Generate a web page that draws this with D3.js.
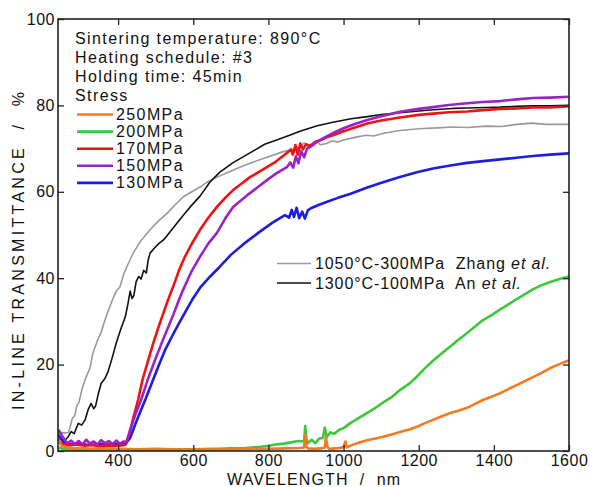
<!DOCTYPE html>
<html>
<head>
<meta charset="utf-8">
<script src="https://cdn.jsdelivr.net/npm/d3@7"></script>
<style>
  html, body { margin: 0; padding: 0; background: #fff; }
  svg text { font-family: "Liberation Sans", Arial, sans-serif; fill: #111; }
</style>
</head>
<body>
<main></main>
<script>
let svgWidth  = 590;
let svgHeight = 487;

let margin = { top: 19, right: 21, bottom: 36, left: 58 };
let plotWidth  = svgWidth  - margin.left - margin.right;
let plotHeight = svgHeight - margin.top  - margin.bottom;

// x ticks / y ticks
const xTicks = [400, 600, 800, 1000, 1200, 1400, 1600];
const yTicks = [0, 20, 40, 60, 80, 100];

// info text in the upper-left corner
const infoLines = [
  'Sintering temperature: 890\u00B0C',
  'Heating schedule: #3',
  'Holding time: 45min',
  'Stress'
];

// stress series names and colors
const stressNames  = ['250MPa', '200MPa', '170MPa', '150MPa', '130MPa'];
const stressColors = ['#f47a20', '#3cc73c', '#f01212', '#9a22c8', '#1d1ddf'];

// [wavelength nm, transmittance %]
const s250 = [[240,2.6],[245,1.8],[250,1.2],[260,0.9],[280,0.6],[300,0.7],[330,0.5],[360,0.6],[400,0.5],[450,0.4],[500,0.5],[550,0.4],[600,0.4],[650,0.5],[700,0.4],[750,0.5],[800,0.5],[850,0.6],[880,0.7],[895,0.8],[898,3.8],[901,1.0],[905,0.6],[920,0.5],[940,0.6],[950,0.8],[953,3.2],[957,1.0],[962,0.5],[980,0.6],[1000,0.9],[1005,2.2],[1008,0.8],[1020,1.3],[1040,1.9],[1063,2.5],[1085,2.9],[1105,3.3],[1130,3.9],[1150,4.4],[1175,5.0],[1195,5.6],[1215,6.4],[1238,7.2],[1260,8.0],[1284,8.8],[1305,9.3],[1329,10.0],[1350,10.9],[1371,11.8],[1395,12.6],[1417,13.4],[1440,14.4],[1462,15.3],[1483,16.2],[1504,17.1],[1527,18.1],[1550,19.2],[1575,20.1],[1600,21.0]];

const s200 = [[240,0.8],[260,0.4],[300,0.2],[350,0.5],[400,0.3],[450,0.2],[500,0.3],[550,0.2],[600,0.4],[650,0.4],[700,0.6],[740,0.7],[780,1.0],[800,1.2],[820,1.5],[840,1.7],[860,2.0],[880,2.3],[895,2.2],[898,5.8],[901,2.8],[905,1.8],[915,2.6],[925,1.8],[935,2.9],[945,3.0],[950,5.4],[955,3.2],[965,4.3],[975,4.0],[990,5.0],[1000,5.3],[1017,6.4],[1040,7.6],[1063,8.8],[1085,10.0],[1105,11.2],[1130,12.6],[1150,14.1],[1175,15.6],[1195,17.2],[1215,19.0],[1238,20.9],[1260,22.5],[1284,24.2],[1305,25.7],[1329,27.3],[1350,28.8],[1371,30.3],[1395,31.5],[1417,32.8],[1440,34.0],[1462,35.2],[1483,36.3],[1504,37.4],[1527,38.4],[1550,39.1],[1575,39.8],[1600,40.4]];

const s170 = [[240,2.8],[245,2.0],[255,1.6],[270,1.3],[290,1.5],[310,1.2],[330,1.4],[350,1.1],[370,1.3],[390,1.2],[410,1.3],[420,1.5],[430,4.0],[440,7.5],[453,11.8],[465,16.5],[480,21.0],[493,24.8],[506,28.3],[520,31.8],[533,35.0],[548,38.4],[563,42.0],[578,45.0],[595,47.8],[618,51.2],[640,54.0],[663,56.5],[685,58.6],[706,60.4],[730,62.0],[751,63.4],[775,64.6],[796,65.7],[820,67.0],[849,69.0],[860,69.8],[865,68.6],[872,70.8],[878,68.6],[885,71.2],[892,69.8],[900,71.0],[910,70.6],[925,71.6],[940,72.0],[955,72.6],[972,73.1],[1000,74.0],[1030,74.9],[1063,75.8],[1100,76.5],[1150,77.2],[1200,77.8],[1238,78.1],[1280,78.4],[1329,78.6],[1370,78.9],[1417,79.2],[1460,79.3],[1504,79.5],[1550,79.5],[1600,79.8]];

const s150 = [[240,5.0],[245,4.4],[250,3.6],[258,2.6],[265,1.8],[275,2.4],[285,1.6],[295,2.3],[305,1.5],[315,2.6],[325,1.7],[335,2.2],[345,1.5],[355,2.5],[365,1.8],[375,2.3],[385,1.6],[395,2.4],[405,1.7],[415,2.2],[422,2.0],[432,4.9],[445,8.2],[461,11.8],[480,16.8],[498,21.0],[515,24.8],[533,28.6],[548,31.8],[562,35.0],[573,37.3],[595,41.5],[618,45.0],[640,48.0],[663,50.5],[685,53.8],[706,56.5],[730,58.2],[751,59.7],[775,61.3],[796,62.7],[820,64.2],[849,65.7],[858,66.8],[866,65.6],[873,68.2],[880,66.6],[887,69.4],[895,68.0],[903,70.0],[915,70.6],[930,71.6],[950,72.6],[972,73.6],[1000,74.7],[1030,75.7],[1063,76.6],[1100,77.5],[1150,78.5],[1200,79.2],[1238,79.6],[1280,80.1],[1329,80.5],[1370,80.8],[1417,81.0],[1460,81.4],[1504,81.7],[1550,81.8],[1600,82.0]];

const s130 = [[240,3.8],[245,3.2],[252,2.4],[262,1.8],[275,1.5],[300,1.6],[325,1.4],[350,1.6],[375,1.5],[400,1.6],[420,1.7],[432,3.0],[445,6.0],[460,9.3],[472,11.8],[490,15.8],[508,19.8],[525,23.4],[545,26.8],[570,30.8],[597,35.0],[620,38.0],[645,40.4],[670,42.6],[700,45.4],[735,48.0],[773,50.5],[810,52.8],[844,54.6],[855,54.0],[862,55.8],[868,54.2],[875,56.3],[882,53.9],[890,55.4],[897,53.8],[905,55.7],[913,56.2],[935,57.0],[960,57.8],[985,58.6],[1017,59.5],[1063,61.0],[1105,62.2],[1150,63.4],[1195,64.5],[1238,65.4],[1284,66.1],[1329,66.7],[1372,67.1],[1417,67.5],[1460,67.9],[1504,68.3],[1550,68.6],[1600,68.9]];

// literature references
const refNames  = ['1050\u00B0C-300MPa', '1300\u00B0C-100MPa'];
const refAuthor = ['Zhang ', 'An '];
const refColors = ['#999999', '#111111'];

const zhang = [[240,4.2],[255,4.2],[268,4.3],[272,5.5],[278,7.5],[285,8.3],[290,10.5],[296,11.3],[303,14.0],[312,16.5],[325,19.2],[333,22.7],[345,25.6],[355,27.5],[365,30.3],[373,32.3],[385,35.0],[395,37.0],[405,38.0],[415,41.0],[425,43.0],[440,45.8],[460,48.6],[485,51.2],[507,53.2],[530,55.0],[552,57.0],[573,58.8],[596,60.0],[618,61.1],[640,62.4],[663,63.4],[695,64.6],[724,65.7],[760,66.9],[796,68.0],[840,69.3],[870,69.9],[884,70.4],[895,71.3],[905,70.6],[920,71.0],[930,71.7],[938,70.9],[955,71.2],[970,71.8],[985,71.5],[1000,72.0],[1030,72.6],[1060,73.1],[1080,72.9],[1110,73.6],[1150,74.2],[1200,74.6],[1250,74.8],[1290,75.0],[1330,74.9],[1380,75.2],[1420,75.1],[1460,75.6],[1500,75.9],[1540,75.6],[1600,75.6]];

const an = [[252,2.0],[260,2.6],[267,3.3],[275,4.5],[283,4.0],[294,6.4],[303,6.0],[312,7.2],[320,9.5],[328,11.0],[335,9.8],[340,10.4],[348,13.5],[355,15.7],[365,16.8],[373,18.3],[384,21.5],[395,25.0],[407,28.2],[419,31.0],[426,34.0],[432,37.0],[437,35.3],[442,36.0],[448,39.2],[455,40.4],[461,39.8],[468,41.8],[475,41.2],[480,44.2],[485,45.8],[495,46.8],[508,48.0],[520,48.8],[530,49.8],[550,52.0],[573,54.5],[595,56.8],[618,59.0],[644,62.2],[670,64.5],[705,66.7],[751,69.0],[790,71.0],[822,72.0],[860,73.2],[884,74.0],[930,75.3],[972,76.1],[1020,76.9],[1063,77.4],[1100,77.9],[1150,78.3],[1200,78.7],[1238,79.0],[1290,79.3],[1329,79.4],[1380,79.5],[1417,79.6],[1460,79.8],[1504,79.9],[1550,79.9],[1600,80.0]];

document.addEventListener("DOMContentLoaded", function() {
  let svg = d3.select("body main")
    .append('svg')
    .attr('width', svgWidth)
    .attr('height', svgHeight);

  let x = d3.scaleLinear().domain([240, 1600]).range([margin.left, margin.left + plotWidth]);
  let y = d3.scaleLinear().domain([0, 100]).range([margin.top + plotHeight, margin.top]);

  svg.append('clipPath').attr('id', 'plotclip')
    .append('rect')
      .attr('x', margin.left).attr('y', margin.top)
      .attr('width', plotWidth).attr('height', plotHeight);

  let line = d3.line()
    .x(function(d) { return x(d[0]); })
    .y(function(d) { return y(d[1]); });

  let curves = svg.append('g').attr('clip-path', 'url(#plotclip)');

  // reference curves (thin)
  [zhang, an].forEach(function(s, i) {
    curves.append('path')
      .attr('d', line(s))
      .attr('fill', 'none')
      .attr('stroke', refColors[i])
      .attr('stroke-width', 1.6)
      .attr('stroke-linejoin', 'round');
  });

  // stress curves, drawn back to front
  let stressData = [s250, s200, s170, s150, s130];
  [4, 2, 3, 1, 0].forEach(function(i) {
    curves.append('path')
      .attr('d', line(stressData[i]))
      .attr('fill', 'none')
      .attr('stroke', stressColors[i])
      .attr('stroke-width', 2.6)
      .attr('stroke-linejoin', 'round');
  });

  // axes, ticks pointing inward
  function styleAxis(g) {
    g.select('.domain').remove();
    g.selectAll('.tick line').attr('stroke', '#222').attr('stroke-width', 1.3);
    g.selectAll('.tick text')
      .attr('font-size', '16px')
      .attr('letter-spacing', '0.5px')
      .attr('fill', '#111')
      .attr('font-family', '"Liberation Sans", Arial, sans-serif');
  }

  svg.append('g')
    .attr('transform', 'translate(0,' + (margin.top + plotHeight) + ')')
    .call(d3.axisBottom(x).tickValues(xTicks).tickSize(-6).tickPadding(4).tickFormat(d3.format('d')))
    .call(styleAxis);

  svg.append('g')
    .attr('transform', 'translate(0,' + margin.top + ')')
    .call(d3.axisTop(x).tickValues(xTicks).tickSize(-6).tickFormat(''))
    .call(styleAxis);

  svg.append('g')
    .attr('transform', 'translate(' + margin.left + ',0)')
    .call(d3.axisLeft(y).tickValues(yTicks).tickSize(-6).tickPadding(3).tickFormat(d3.format('d')))
    .call(styleAxis);

  svg.append('g')
    .attr('transform', 'translate(' + (margin.left + plotWidth) + ',0)')
    .call(d3.axisRight(y).tickValues(yTicks).tickSize(-6).tickFormat(''))
    .call(styleAxis);

  svg.append('rect')
    .attr('x', margin.left).attr('y', margin.top)
    .attr('width', plotWidth).attr('height', plotHeight)
    .attr('fill', 'none')
    .attr('stroke', '#222')
    .attr('stroke-width', 1.6);

  // axis titles
  svg.append('text')
    .attr('x', 227)
    .attr('y', 485)
    .attr('font-size', '16px')
    .attr('textLength', 173)
    .attr('lengthAdjust', 'spacing')
    .style('white-space', 'pre')
    .text('WAVELENGTH  /  nm');

  svg.append('text')
    .attr('transform', 'translate(23.5,410) rotate(-90)')
    .attr('font-size', '16px')
    .attr('textLength', 318)
    .attr('lengthAdjust', 'spacing')
    .style('white-space', 'pre')
    .text('IN-LINE TRANSMITTANCE  /  %');

  // info block
  let info = svg.append('g');
  infoLines.forEach(function(t, i) {
    info.append('text')
      .attr('x', 75)
      .attr('y', 44 + i * 19)
      .attr('font-size', '16px')
      .attr('letter-spacing', '1.4px')
      .text(t);
  });

  stressNames.forEach(function(name, i) {
    let yy = 114.5 + i * 17.1;
    info.append('line')
      .attr('x1', 77).attr('x2', 113)
      .attr('y1', yy).attr('y2', yy)
      .attr('stroke', stressColors[i])
      .attr('stroke-width', 2.6);
    info.append('text')
      .attr('x', 116)
      .attr('y', yy + 5.5)
      .attr('font-size', '16px')
      .attr('letter-spacing', '1.4px')
      .text(name);
  });

  // reference legend
  refNames.forEach(function(name, i) {
    let yy = 263.5 + i * 19.5;
    svg.append('line')
      .attr('x1', 277).attr('x2', 311)
      .attr('y1', yy).attr('y2', yy)
      .attr('stroke', refColors[i])
      .attr('stroke-width', 1.6);
    let t = svg.append('text')
      .attr('x', 315)
      .attr('y', yy + 5.5)
      .attr('font-size', '16px')
      .attr('letter-spacing', '0.9px')
      .style('white-space', 'pre');
    t.append('tspan').text(name + '  ' + refAuthor[i]);
    t.append('tspan').attr('font-style', 'italic').text('et al.');
  });
});
</script>
</body>
</html>
